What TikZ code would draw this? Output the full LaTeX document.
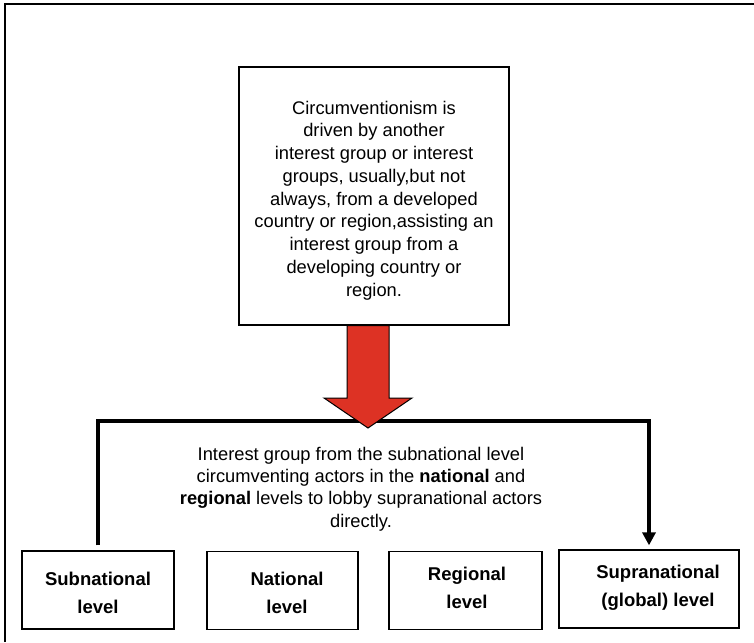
\documentclass[tikz,border=0pt]{standalone}
\usepackage{fontspec}
\setmainfont{Liberation Sans}
\usetikzlibrary{arrows.meta}
\definecolor{arrowred}{HTML}{DD3224}
\tikzset{
  txt/.style={font=\fontsize{18.3}{22.75}\selectfont, align=center, inner sep=0pt},
  bigbox/.style={draw, line width=1.3pt, minimum width=270pt, minimum height=258pt, inner sep=0pt},
  levelbox/.style={draw, line width=1.3pt, minimum height=78pt, inner sep=0pt},
  levellabel/.style={inner sep=0pt, align=center, font=\fontsize{18.5}{28}\selectfont\bfseries},
  bracket/.style={line width=4pt},
}
\begin{document}
\begin{tikzpicture}[x=1pt,y=-1pt]
\useasboundingbox (0,0) rectangle (754,642);
% outer frame (top and left edges visible)
\draw[line width=2pt] (5,642) -- (5,4) -- (754,4);

\node[bigbox] (top) at (374,196) {};
\node[txt] (toptext) at (374,200.5) {Circumventionism is\\driven by another\\interest group or interest\\groups, usually,but not\\always, from a developed\\country or region,assisting an\\interest group from a\\developing country or\\region.};

\node[levelbox, minimum width=152pt] (sub) at (98,590) {};
\node[levelbox, minimum width=151pt] (nat) at (282.5,590.5) {};
\node[levelbox, minimum width=153pt] (reg) at (465.5,590.5) {};
\node[levelbox, minimum width=180pt] (sup) at (649,589) {};
\node[levellabel] (subL) at (98,593) {Subnational\\level};
\node[levellabel] (natL) at (287,593) {National\\level};
\node[levellabel] (regL) at (467,588) {Regional\\level};
\node[levellabel] (supL) at (658,588) {Supranational\\(global) level};

\coordinate (bar) at (374,421);
\draw[bracket, -{Triangle[width=13pt,length=13pt]}] ([yshift=5pt]sub.north) |- (bar) -| ([yshift=4pt]sup.north);

\node[txt, font=\fontsize{18.3}{22.3}\selectfont] (mid) at (361,489) {Interest group from the subnational level\\circumventing actors in the \textbf{national} and\\\textbf{regional} levels to lobby supranational actors\\directly.};

% big red arrow from the top box down to the bracket
\draw[line width=1pt, fill=arrowred, line join=miter]
  ([xshift=-27pt]top.south) -- ([xshift=-27pt]top.south |- 0,398) -- ([xshift=-50pt]top.south |- 0,398)
  -- ([xshift=-6pt]top.south |- 0,428) -- ([xshift=38pt]top.south |- 0,398) -- ([xshift=15pt]top.south |- 0,398)
  -- ([xshift=15pt]top.south) -- cycle;
\end{tikzpicture}
\end{document}
